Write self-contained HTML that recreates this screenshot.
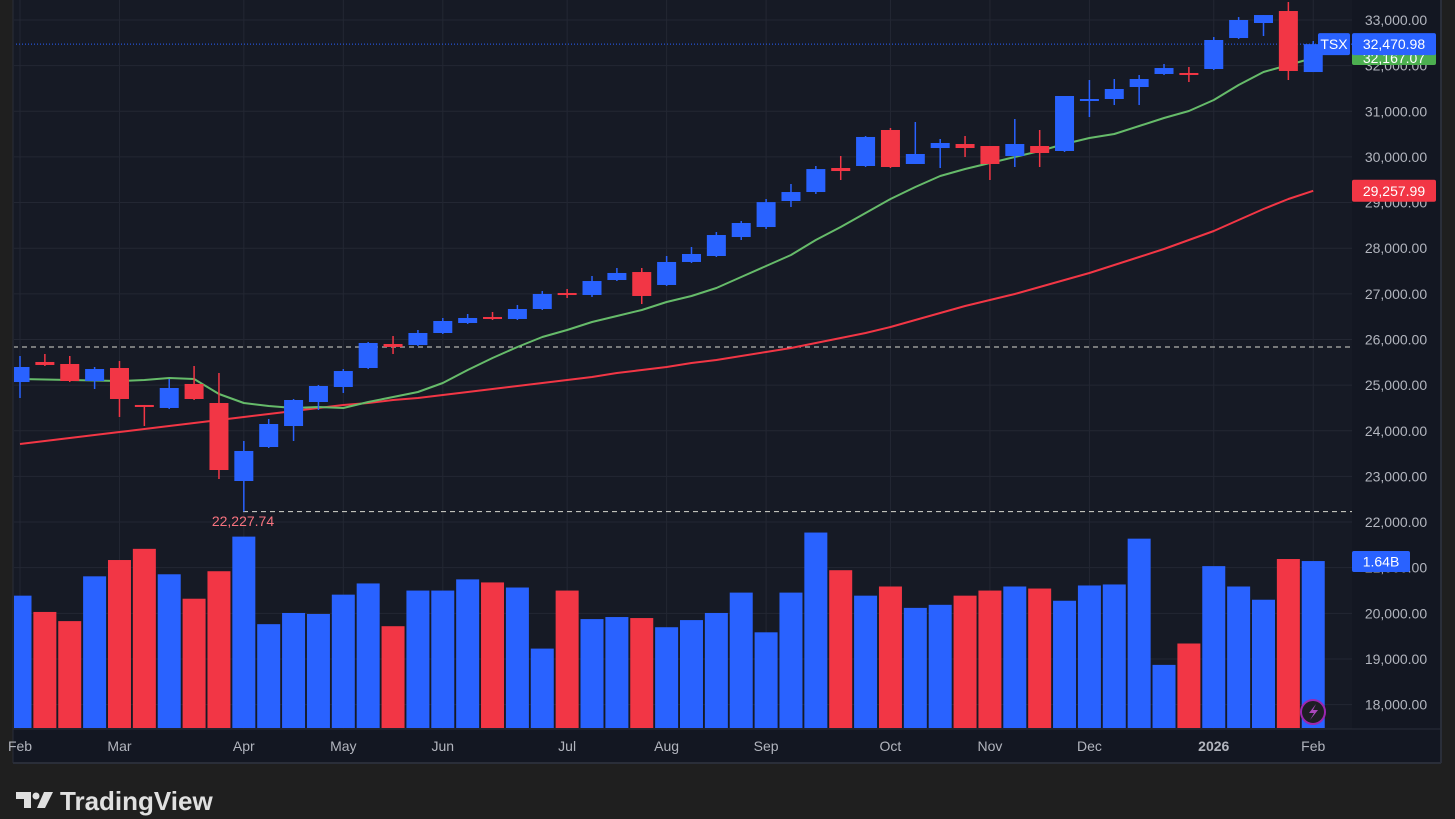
<!DOCTYPE html>
<html><head><meta charset="utf-8">
<style>
html,body{margin:0;padding:0;background:#1f1f1f;width:1455px;height:819px;overflow:hidden;font-family:"Liberation Sans",sans-serif}
svg{position:absolute;left:0;top:0}
</style></head>
<body>
<svg id="c" width="1455" height="819"></svg>
<script>
const opens=[25068,25507,25463,25090,25375,24565,24499,25025,24608,22899,23644,24104,24630,24959,25375,25901,25879,26142,26361,26493,26449,26668,27018,26975,27303,27478,27194,27698,27829,28245,28464,29034,29231,29757,29801,30590,29845,30195,30283,30239,30020,30239,30130,31225,31269,31532,31817,31839,31926,32605,32934,33197,31860];
const closes=[25397,25441,25090,25353,24696,24521,24937,24696,23140,23557,24148,24674,24981,25309,25923,25836,26142,26405,26471,26449,26668,26997,26975,27281,27457,26953,27698,27873,28289,28552,29010,29231,29734,29691,30437,29779,30064,30305,30195,29845,30283,30086,31335,31269,31488,31707,31948,31828,32562,33000,33109,31883,32471];
const highs=[25638,25682,25638,25397,25529,24565,25134,25419,25266,23776,24258,24696,25003,25353,25945,26076,26208,26471,26558,26602,26756,27062,27106,27391,27566,27566,27829,28026,28355,28596,29078,29407,29801,30020,30458,30634,30765,30393,30458,30239,30831,30590,31335,31685,31707,31795,32036,31970,32627,33065,33109,33394,32540];
const lows=[24718,25419,25068,24915,24302,24104,24477,24674,22943,22228,23622,23776,24455,24828,25353,25682,25857,26120,26339,26427,26427,26646,26909,26931,27281,26777,27172,27676,27807,28180,28421,28903,29188,29494,29779,29757,29845,29757,29998,29494,29779,29779,30108,30874,31137,31137,31795,31641,31904,32583,32649,31685,31860];
const volumes=[1.30,1.14,1.05,1.49,1.65,1.76,1.51,1.27,1.54,1.88,1.02,1.13,1.12,1.31,1.42,1.00,1.35,1.35,1.46,1.43,1.38,0.78,1.35,1.07,1.09,1.08,0.99,1.06,1.13,1.33,0.94,1.33,1.92,1.55,1.30,1.39,1.18,1.21,1.30,1.35,1.39,1.37,1.25,1.40,1.41,1.86,0.62,0.83,1.59,1.39,1.26,1.66,1.64];
const maFast=[25134,25123,25112,25101,25090,25112,25156,25134,24805,24608,24543,24499,24521,24499,24630,24740,24849,25047,25331,25594,25835,26054,26208,26383,26515,26646,26821,26953,27128,27369,27610,27851,28180,28464,28771,29078,29341,29582,29735,29867,29998,30130,30283,30414,30502,30677,30853,31006,31247,31576,31861,32014,32167];
const maSlow=[23710,23776,23841,23907,23973,24039,24104,24170,24236,24302,24368,24433,24499,24565,24608,24674,24718,24784,24849,24915,24981,25047,25112,25178,25266,25331,25397,25485,25550,25638,25726,25813,25923,26032,26142,26273,26427,26580,26734,26865,26997,27150,27303,27457,27632,27807,27983,28180,28377,28618,28859,29078,29258];
const priceTicks=[33000,32000,31000,30000,29000,28000,27000,26000,25000,24000,23000,22000,21000,20000,19000,18000];
const monthLabels=["Feb","Mar","Apr","May","Jun","Jul","Aug","Sep","Oct","Nov","Dec","2026","Feb"];
const monthIdx=[0,4,9,13,17,22,26,30,35,39,43,48,52];

const NS="http://www.w3.org/2000/svg";
const svg=document.getElementById('c');
function el(t,a,p){const e=document.createElementNS(NS,t);for(const k in a)e.setAttribute(k,a[k]);(p||svg).appendChild(e);return e;}
const X=i=>20+i*24.87;
const Y=p=>20+(33000-p)*0.04564;
const VY=v=>728-v*101.8;
const BLUE="#2962ff",RED="#f23645";

const defs=el('defs',{});
const cp=el('clipPath',{id:'pane'},defs);
el('rect',{x:14,y:0,width:1338,height:729},cp);

el('rect',{x:13,y:0,width:1428,height:763,fill:'#161a25'});
el('rect',{x:13,y:729,width:1428,height:34,fill:'#131722'});
el('rect',{x:1352,y:0,width:89,height:729,fill:'#131722'});
el('line',{x1:1441,y1:0,x2:1441,y2:763,stroke:'#2a2e39','stroke-width':2});
el('line',{x1:13,y1:763,x2:1441,y2:763,stroke:'#2a2e39','stroke-width':2});
el('line',{x1:13,y1:0,x2:13,y2:763,stroke:'#2a2e39','stroke-width':1});
el('line',{x1:13,y1:729,x2:1441,y2:729,stroke:'#2a2e39','stroke-width':1});

const pane=el('g',{'clip-path':'url(#pane)'});



const grid=el('g',{},pane);


priceTicks.forEach(p=>{el('line',{x1:13,y1:Y(p),x2:1352,y2:Y(p),stroke:'#232733','stroke-width':1},grid);});
monthIdx.forEach(i=>{el('line',{x1:X(i),y1:0,x2:X(i),y2:729,stroke:'#232733','stroke-width':1},grid);});

const vg=el('g',{},pane);


volumes.forEach((v,i)=>{
  const r=el('rect',{x:X(i)-11.5,y:VY(v),width:23,height:728-VY(v),fill:closes[i]>=opens[i]?BLUE:RED},vg);
  
  
});

el('line',{x1:13,y1:347,x2:1352,y2:347,stroke:'#d8d8d0','stroke-width':1,'stroke-dasharray':'5,4'},pane);
el('line',{x1:243,y1:Y(22228),x2:1352,y2:Y(22228),stroke:'#d8d8d0','stroke-width':1,'stroke-dasharray':'5,4'},pane);
el('line',{x1:13,y1:Y(32471),x2:1352,y2:Y(32471),stroke:BLUE,'stroke-width':1,'stroke-dasharray':'1,2'},pane);

function line(arr,col,name){
  const d=arr.map((p,i)=>(i?'L':'M')+X(i).toFixed(1)+','+Y(p).toFixed(1)).join('');
  const e=el('path',{d:d,fill:'none',stroke:col,'stroke-width':2,'stroke-linejoin':'round'},pane);
  
  
}
line(maSlow,'#f23645','slow-moving-average');
line(maFast,'#66bb6a','fast-moving-average');

const cg=el('g',{},pane);


opens.forEach((o,i)=>{
  const c=closes[i],col=c>=o?BLUE:RED,x=X(i);
  el('line',{x1:x,y1:Y(highs[i]),x2:x,y2:Y(lows[i]),stroke:col,'stroke-width':1.5},cg);
  const t=Math.min(Y(o),Y(c)),h=Math.max(2,Math.abs(Y(o)-Y(c)));
  const r=el('rect',{x:x-9.5,y:t,width:19,height:h,fill:col},cg);
  
  
});

const T=(x,y,s,o)=>{const e=el('text',Object.assign({x:x,y:y,'font-size':14,fill:'#b2b5be','font-family':'Liberation Sans, sans-serif'},o||{}));e.textContent=s;return e;};
priceTicks.forEach(p=>{const e=T(1396,Y(p)+5,p.toLocaleString('en-US',{minimumFractionDigits:2}),{'text-anchor':'middle'});});
monthLabels.forEach((m,i)=>{const e=T(X(monthIdx[i]),751,m,{'text-anchor':'middle','font-weight':m==='2026'?'bold':'normal'});});
const lo=T(243,526,'22,227.74',{'text-anchor':'middle',fill:'#f7737f'});


function badge(x,y,w,h,bg,txt,name){
  el('rect',{x:x,y:y,width:w,height:h,fill:bg,rx:2});
  const e=T(x+w/2,y+h/2+5,txt,{'text-anchor':'middle',fill:'#fff','font-size':14});
  
}
badge(1352,Y(32167)-7,84,14,'#4caf50','32,167.07','fast-ma-badge');
badge(1318,Y(32471)-11,32,22,BLUE,'TSX','symbol-badge');
badge(1352,Y(32471)-11,84,22,BLUE,'32,470.98','last-price-badge');
badge(1352,Y(29258)-11,84,22,RED,'29,257.99','slow-ma-badge');
badge(1352,VY(1.64)-10,58,21,BLUE,'1.64B','volume-badge');

const ic=el('g',{});


el('circle',{cx:1313,cy:712,r:12,fill:'#1e1e24',stroke:'#9c27b0','stroke-width':2},ic);
el('path',{d:'M1316,704 L1309,713 L1314,713 L1310,720 L1318,710 L1313,710 Z',fill:'#ab47bc'},ic);

const lg=el('g',{});


el('path',{d:'M16,792 H31 V808 H24 V799 H16 Z',fill:'#e0e0e0'},lg);
el('circle',{cx:36,cy:796,r:3.5,fill:'#e0e0e0'},lg);
el('path',{d:'M44,792 H53 L45,808 H37 Z',fill:'#e0e0e0'},lg);
const lt=el('text',{x:60,y:810,'font-size':26,'font-weight':'bold',fill:'#e0e0e0','font-family':'Liberation Sans, sans-serif'},lg);
lt.textContent='TradingView';
</script>
</body></html>
